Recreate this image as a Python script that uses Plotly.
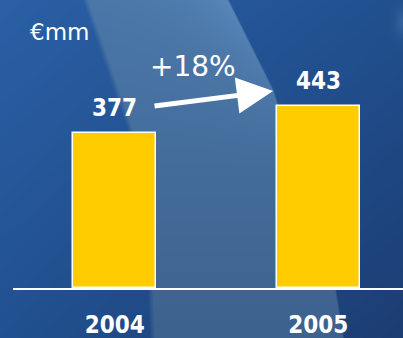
import base64
import struct
import zlib

import numpy as np
import plotly.graph_objects as go

# ---- data -------------------------------------------------------------
years = ["2004", "2005"]
revenue = [377, 443]
value_labels = ["377", "443"]
growth_label = "+18%"
unit_label = "€mm"

W, H = 403, 338
ML, MR, MT, MB = 13, 0, 0, 50
PW, PH = W - ML - MR, H - MT - MB

BAR_COLOR = "#FFCC00"
WHITE = "#FFFFFF"
REG = "DejaVu Sans"
BOLD = "DejaVu Sans Condensed"


# ---- background artwork (blue gradient with a light diagonal swoosh) ---
def png_uri(img):
    h, w, _ = img.shape
    raw = b"".join(b"\x00" + img[i].tobytes() for i in range(h))

    def chunk(tag, data):
        return (struct.pack(">I", len(data)) + tag + data
                + struct.pack(">I", zlib.crc32(tag + data) & 0xFFFFFFFF))

    png = (b"\x89PNG\r\n\x1a\n"
           + chunk(b"IHDR", struct.pack(">IIBBBBB", w, h, 8, 2, 0, 0, 0))
           + chunk(b"IDAT", zlib.compress(raw, 9))
           + chunk(b"IEND", b""))
    return "data:image/png;base64," + base64.b64encode(png).decode()


def make_background():
    yy, xx = np.mgrid[0:H, 0:W].astype(float)
    t = (yy / (H - 1))[..., None]
    s = (xx / (W - 1))[..., None]
    lt, lb = np.array([43, 96, 166]), np.array([33, 81, 144])
    rt, rb = np.array([33, 80, 143]), np.array([28, 61, 115])
    left = lt * (1 - t) + lb * t
    right = rt * (1 - t) + rb * t
    img = left * (1 - s) + right * s

    ys = np.arange(H, dtype=float)
    l_edge = np.interp(ys, [0, 130, 288, 338], [85, 130, 150, 152])[:, None]
    r_edge = np.interp(ys, [0, 90, 130, 200, 288, 338],
                       [228, 273, 285, 310, 335, 343])[:, None]
    a_left = np.clip((xx - l_edge) / 6.0 + 0.5, 0, 1)
    a_right = np.clip((r_edge - xx) / 2.0 + 0.5, 0, 1)
    band_a = (a_left * a_right)[..., None]
    bt, bb = np.array([74, 119, 168]), np.array([62, 98, 142])
    band = bt * (1 - t) + bb * t
    img = img * (1 - band_a) + band * band_a

    # soft sheen along the right edge of the swoosh
    sheen = np.exp(-np.clip(r_edge - xx, 0, None) / 45.0) * np.clip(1 - yy / 170.0, 0, 1)
    img = img + (sheen * band_a[..., 0])[..., None] * np.array([14, 16, 18])

    # faint glow in the top-right corner
    glow = np.exp(-(((xx - 405) / 10.0) ** 2 + ((yy - 22) / 14.0) ** 2))
    img = img * (1 - 0.35 * glow[..., None]) + np.array([95, 140, 195]) * 0.35 * glow[..., None]

    return np.clip(img, 0, 255).astype(np.uint8)


# ---- figure ------------------------------------------------------------
fig = go.Figure()
fig.add_trace(go.Bar(
    x=years,
    y=revenue,
    width=0.41,
    marker=dict(color=BAR_COLOR, line=dict(color=WHITE, width=1.5)),
    hoverinfo="skip",
))

x_span = PW / 203.5
y_top = PH / 0.4114

annotations = []
for i, (v, lab) in enumerate(zip(revenue, value_labels)):
    annotations.append(dict(
        x=i, y=v, xref="x", yref="y", text=lab, showarrow=False,
        yanchor="middle", yshift=25,
        font=dict(family=BOLD, size=24, color=WHITE, weight="bold"),
    ))

# unit caption
annotations.append(dict(
    x=(28 - ML) / PW, y=(PH - 32) / PH, xref="paper", yref="paper",
    xanchor="left", yanchor="middle", text=unit_label, showarrow=False,
    font=dict(family=REG, size=23, color=WHITE),
))
# growth caption
annotations.append(dict(
    x=(193 - ML) / PW, y=(PH - 67) / PH, xref="paper", yref="paper",
    xanchor="center", yanchor="middle", text=growth_label, showarrow=False,
    font=dict(family=REG, size=28, color=WHITE),
))
# growth arrow
annotations.append(dict(
    x=0.778, y=479, xref="x", yref="y",
    ax=0.188, ay=442, axref="x", ayref="y",
    text="", showarrow=True, arrowhead=2, arrowsize=1.45, arrowwidth=5,
    arrowcolor=WHITE, standoff=0, startstandoff=0,
))

fig.update_layout(
    width=W, height=H,
    margin=dict(l=ML, r=MR, t=MT, b=MB, pad=0, autoexpand=False),
    paper_bgcolor="#1f4a8a",
    plot_bgcolor="rgba(0,0,0,0)",
    showlegend=False,
    bargap=0,
    annotations=annotations,
    images=[dict(
        source=png_uri(make_background()),
        xref="paper", yref="paper",
        x=-ML / PW, y=1 + MT / PH,
        sizex=W / PW, sizey=H / PH,
        xanchor="left", yanchor="top",
        sizing="stretch", layer="below",
    )],
    xaxis=dict(
        type="category",
        range=[-0.5, -0.5 + x_span],
        automargin=False,
        showgrid=False, zeroline=False,
        showline=True, linecolor=WHITE, linewidth=1.5,
        ticks="", ticklabelstandoff=14,
        tickfont=dict(family=BOLD, size=24, color=WHITE, weight="bold"),
    ),
    yaxis=dict(
        range=[0, y_top],
        automargin=False,
        showgrid=False, zeroline=False, showline=False,
        showticklabels=False, ticks="",
    ),
)

fig.write_html("out.html")
